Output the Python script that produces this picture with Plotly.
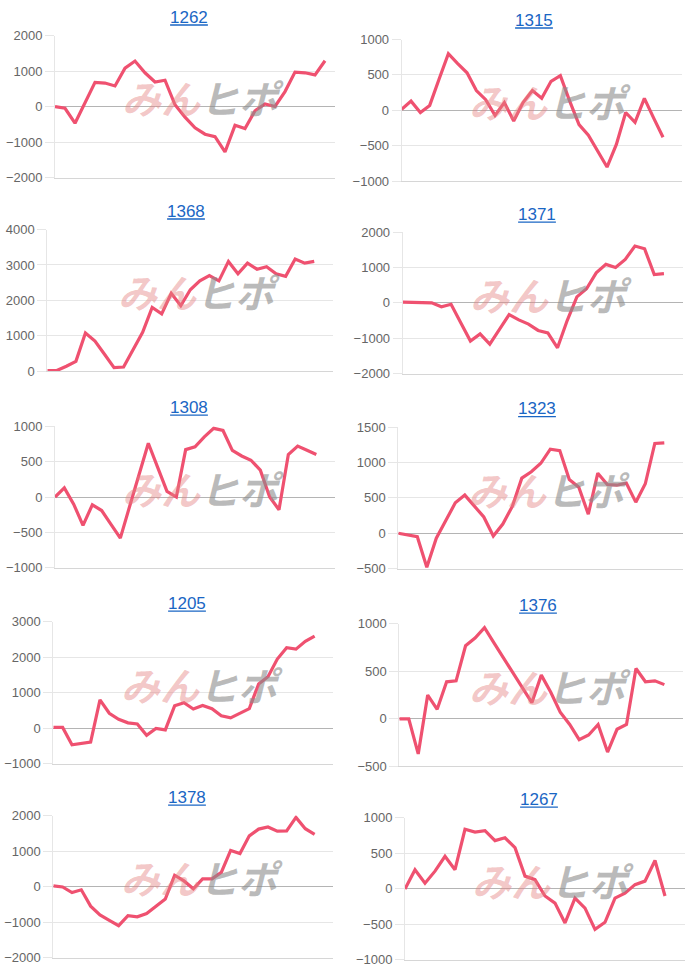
import plotly.graph_objects as go

W, H = 700, 975
# the captured page comes out vertically squeezed (~0.9845) and shifted (~7.5px);
# placements are given in target-picture pixels and converted back here.
VSCALE, VOFF = 0.9845, 7.5


def px(x):
    return x / W


def py(y):
    return 1 - ((y - VOFF) / VSCALE) / H


titles = ["1262", "1315", "1368", "1371", "1308", "1323", "1205", "1376", "1378", "1267"]

s1262 = [0, -50, -470, 100, 680, 660, 580, 1080, 1280, 950, 690, 740, 50, -300,
         -600, -780, -850, -1280, -530, -620, -120, 70, 0, 420, 970, 950, 890, 1290]
s1315 = [15, 130, -30, 70, 440, 800, 660, 530, 280, 150, -70, 110, -150, 110, 280,
         170, 410, 490, 130, -200, -350, -570, -800, -480, -30, -170, 170, -110, -380]
s1368 = [20, 20, 140, 280, 1080, 850, 480, 100, 120, 600, 1100, 1800, 1620, 2200, 1850,
         2300, 2550, 2700, 2550, 3100, 2750, 3050, 2880, 2950, 2750, 2680, 3170, 3050, 3100]
s1371 = [20, 20, 20, 0, -110, -40, -560, -1080, -880, -1170, -750, -330, -480, -600,
         -780, -850, -1270, -500, 170, 400, 850, 1090, 1000, 1230, 1610, 1530, 800, 830]
s1308 = [0, 130, -100, -400, -110, -190, -385, -580, -130, 310, 760, 420, 80, 0, 670,
         710, 850, 970, 940, 660, 580, 520, 380, 0, -180, 600, 720, 660, 600]
s1323 = [0, -30, -50, -480, -70, 180, 430, 540, 380, 230, -40, 130, 380, 780, 870,
         990, 1190, 1170, 760, 650, 270, 850, 690, 680, 710, 440, 700, 1270, 1280]
s1205 = [20, 20, -470, -430, -390, 800, 420, 250, 150, 120, -200, -10, -50, 630, 720,
         540, 640, 550, 350, 290, 420, 550, 1250, 1450, 1950, 2270, 2230, 2450, 2600]
s1376 = [0, 0, -370, 250, 100, 390, 400, 770, 850, 960, 800, 640, 480, 320, 170,
         460, 280, 70, -60, -220, -170, -60, -350, -110, -60, 530, 390, 400, 360]
s1378 = [20, -10, -170, -90, -550, -800, -950, -1100, -820, -850, -760, -550, -350, 320,
         160, -60, 220, 220, 400, 1020, 930, 1430, 1620, 1680, 1560, 1570, 1950, 1630, 1470]
s1267 = [0, 270, 80, 250, 460, 270, 840, 800, 820, 680, 720, 580, 180, 130, -100,
         -200, -480, -130, -270, -570, -470, -130, -60, 60, 110, 400, -100]

series = [s1262, s1315, s1368, s1371, s1308, s1323, s1205, s1376, s1378, s1267]

y_ranges = [(-2000, 2000), (-1000, 1000), (0, 4000), (-2000, 2000), (-1000, 1000),
            (-500, 1500), (-1000, 3000), (-500, 1000), (-2000, 2000), (-1000, 1000)]
y_dticks = [1000, 500, 1000, 1000, 500, 500, 1000, 500, 1000, 500]
x_slots = [28, 30, 30, 29, 30, 30, 30, 30, 30, 28]

# panel pixel boxes: (x_left, x_right, y_top, y_bottom), title center (x, y)
boxes = [
    (55, 335, 36, 178), (401.7, 681.7, 40, 181.7),
    (47.3, 333.3, 230, 371.7), (402.7, 683.3, 232.7, 374),
    (55, 335, 426.7, 568.3), (398.3, 683.3, 427.7, 569),
    (53.3, 333.3, 622.3, 764), (399.3, 683.3, 624.3, 766.7),
    (53.3, 333.3, 816, 958), (405, 685, 818.3, 960.3),
]
title_pos = [(189, 17.5), (534, 20.5), (186, 211.5), (537, 214.5), (189, 407.5),
             (537, 409), (187, 603.5), (538, 605.5), (187, 797.5), (539, 799.5)]

LINE = "#ef5170"
GRID = "#e6e6e6"
ZERO = "#b4b4b4"
TICKFONT = dict(family="Liberation Sans, Arial, sans-serif", size=13, color="#666666")
TITLE_COLOR = "#1a66c4"

fig = go.Figure()
annotations = []
shapes = []

for i, (name, vals) in enumerate(zip(titles, series)):
    n = "" if i == 0 else str(i + 1)
    xl, xr, yt, yb = boxes[i]
    fig.add_trace(go.Scatter(
        x=list(range(len(vals))), y=vals, mode="lines",
        line=dict(color=LINE, width=3.2), xaxis="x" + n, yaxis="y" + n,
        showlegend=False, hoverinfo="skip"))
    fig.update_layout({
        "xaxis" + n: dict(domain=[px(xl), px(xr)], anchor="y" + n,
                          range=[0, x_slots[i]], showticklabels=False, showgrid=False,
                          zeroline=False, showline=True, linecolor="#d6d6d6",
                          linewidth=1, ticks="", fixedrange=True),
        "yaxis" + n: dict(domain=[py(yb), py(yt)], anchor="x" + n,
                          range=list(y_ranges[i]), dtick=y_dticks[i], tick0=0,
                          showgrid=True, gridcolor=GRID, gridwidth=1,
                          zeroline=True, zerolinecolor=ZERO, zerolinewidth=1,
                          showline=True, linecolor=GRID, linewidth=1,
                          ticks="outside", ticklen=9, tickcolor=GRID,
                          tickfont=TICKFONT, fixedrange=True),
    })
    tx, ty = title_pos[i]
    annotations.append(dict(
        x=px(tx), y=py(ty), xref="paper", yref="paper", xanchor="center",
        yanchor="middle", showarrow=False, text=name,
        font=dict(family="Liberation Sans, Arial, sans-serif", size=17, color=TITLE_COLOR)))
    half = len(name) * 9.45 / 2
    shapes.append(dict(type="line", xref="paper", yref="paper",
                       x0=px(tx - half), x1=px(tx + half),
                       y0=py(ty + 8), y1=py(ty + 8),
                       line=dict(color=TITLE_COLOR, width=1.3)))
    # watermark
    annotations.append(dict(
        x=0.53, y=0.565, xref="x" + n + " domain", yref="y" + n + " domain",
        xanchor="center", yanchor="middle", showarrow=False,
        text="<i><span style='color:rgba(228,130,130,0.45)'>みん</span>"
             "<span style='color:rgba(140,140,140,0.6)'>ヒポ</span></i>",
        font=dict(family="Noto Sans CJK JP, sans-serif", size=39, weight=700)))

fig.update_layout(width=W, height=H, autosize=False,
                  margin=dict(l=0, r=0, t=0, b=0),
                  paper_bgcolor="white", plot_bgcolor="white",
                  annotations=annotations, shapes=shapes)

fig.write_html("out.html", config={"displayModeBar": False})
